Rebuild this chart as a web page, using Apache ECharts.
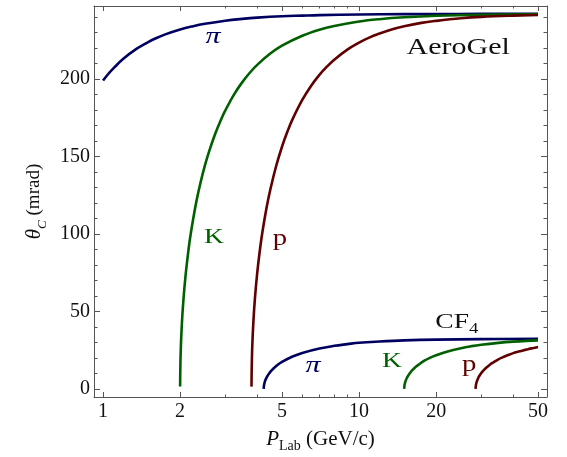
<!DOCTYPE html>
<html>
<head>
<meta charset="utf-8">
<script src="https://cdn.jsdelivr.net/npm/echarts@6/dist/echarts.min.js"></script>
<style>
  html, body { margin: 0; padding: 0; background: #fff; }
  #chart { width: 567px; height: 457px; }
</style>
</head>
<body>
<div id="chart"></div>
<script>
// Cherenkov angle θ_C (mrad) versus lab momentum (GeV/c) for π, K and p
// in an aerogel radiator and in CF4 gas.

// --- AeroGel ---
const pAeroPi  = [1.0, 1.05, 1.1, 1.2, 1.35, 1.5, 1.6, 1.75, 2, 2.25, 2.5, 3, 3.5, 4, 5, 6, 7, 10, 15, 20, 30, 50];
const thAeroPi = [198.9, 203.3, 206.9, 212.9, 219.3, 223.7, 226.0, 228.7, 231.9, 234.0, 235.5, 237.5, 238.7, 239.5, 240.4, 240.8, 241.1, 241.5, 241.75, 241.8, 241.9, 241.95];

const pAeroK  = [2.0, 2.01, 2.03, 2.06, 2.1, 2.15, 2.2, 2.3, 2.4, 2.5, 2.6, 2.75, 2.9, 3, 3.25, 3.5, 3.75, 4, 4.5, 5, 6, 7, 8, 10, 12, 15, 20, 30, 50];
const thAeroK = [1.5, 23.2, 40.7, 57.2, 72.9, 87.9, 99.9, 118.5, 132.7, 144.2, 153.6, 165.1, 174.3, 179.5, 190.0, 197.9, 204.1, 209.0, 216.3, 221.4, 227.8, 231.7, 234.1, 237.0, 238.5, 239.7, 240.7, 241.4, 241.7];

const pAeroP  = [3.80, 3.81, 3.83, 3.87, 3.92, 4, 4.1, 4.2, 4.35, 4.5, 4.75, 5, 5.25, 5.5, 6, 6.5, 7, 7.5, 8, 9, 10, 11, 12, 13.5, 15, 17.5, 20, 25, 30, 40, 50];
const thAeroP = [1.5, 15.4, 28.9, 44.7, 58.4, 74.5, 89.8, 102.0, 116.7, 128.5, 144.1, 156.2, 166.0, 174.0, 186.4, 195.6, 202.6, 208.0, 212.4, 218.9, 223.4, 226.8, 229.2, 232.0, 233.9, 236.1, 237.4, 239.1, 240.0, 240.8, 241.2];

// --- CF4 ---
const pGasPi  = [4.24, 4.25, 4.27, 4.3, 4.35, 4.4, 4.5, 4.6, 4.8, 5, 5.5, 6, 7, 8, 9, 10, 12, 15, 20, 30, 50];
const thGasPi = [0, 2, 3.7, 5.4, 7.3, 8.7, 11, 12.7, 15.4, 17.4, 20.9, 23.2, 26.1, 27.8, 28.9, 29.8, 30.6, 31.3, 31.8, 32.1, 32.3];

const pGasK  = [15.0, 15.05, 15.1, 15.2, 15.35, 15.5, 15.75, 16, 16.5, 17, 18, 19, 20, 22, 25, 27.5, 30, 35, 40, 45, 50];
const thGasK = [0, 2.5, 3.6, 5.2, 6.9, 8.2, 10, 11.4, 13.7, 15.4, 18.2, 20.2, 21.7, 24, 26.3, 27.6, 28.5, 29.7, 30.5, 31, 31.3];

const pGasP  = [28.5, 28.55, 28.6, 28.8, 29.2, 29.6, 30, 30.5, 31, 32.5, 33.5, 35, 36.5, 38, 40, 42, 44, 46, 48, 50];
const thGasP = [0, 1.5, 2.4, 4.6, 7.1, 8.8, 10.2, 11.7, 12.9, 15.8, 17.2, 19.1, 20.5, 21.7, 23.1, 24.1, 25, 25.8, 26.4, 27];

// Axis ticks
const xMajorTicks = [1, 2, 5, 10, 20, 50];
const xMinorTicks = [3, 4, 6, 7, 8, 9, 30, 40];
const yMajorTicks = [0, 50, 100, 150, 200];
const yMinorTicks = [10, 20, 30, 40, 60, 70, 80, 90, 110, 120, 130, 140, 160, 170, 180, 190, 210, 220, 230, 240];

// Curve annotations: [text key, momentum, angle]
const curveLabels = [
  ['pi', 2.69, 227.5], ['K', 2.71, 98], ['p', 4.91, 97],
  ['pi', 6.61, 15], ['K', 13.45, 17.6], ['p', 26.9, 15.6]
];
const radiatorLabels = [['AeroGel', 24.4, 220], ['CF4', 24.1, 43.3]];

const C_PI = '#000060';
const C_K = '#006000';
const C_P = '#600000';
const FRAME = '#555555';
const SERIF = 'Liberation Serif';

const zip = (xs, ys) => xs.map((x, i) => [x, ys[i]]);

const X_MIN = 0.922, X_MAX = 54.2;
const Y_MIN = -5.2, Y_MAX = 247;

function xAxisDef(position, ticks, len, withLine, withLabel) {
  const ax = {
    type: 'log', logBase: 10, position: position, min: X_MIN, max: X_MAX,
    axisLine: { show: withLine, onZero: false, lineStyle: { color: FRAME, width: 1 } },
    axisTick: { show: true, inside: true, length: len, customValues: ticks, lineStyle: { color: FRAME, width: 1 } },
    axisLabel: { show: false },
    splitLine: { show: false },
    minorTick: { show: false }
  };
  if (withLabel) {
    ax.axisLabel = {
      show: true, customValues: ticks, margin: 5,
      formatter: v => String(Math.round(v)),
      fontFamily: SERIF, fontSize: 20, color: '#111'
    };
    ax.name = '{i|P}{s|Lab} (GeV/c)';
    ax.nameLocation = 'middle';
    ax.nameGap = 31;
    ax.nameTextStyle = {
      fontFamily: SERIF, fontSize: 21, color: '#111', lineHeight: 26, verticalAlign: 'middle',
      rich: {
        i: { fontFamily: SERIF, fontStyle: 'italic', fontSize: 21, color: '#111', lineHeight: 26, verticalAlign: 'middle' },
        s: { fontFamily: SERIF, fontSize: 14, color: '#111', lineHeight: 26, verticalAlign: 'bottom' }
      }
    };
  }
  return ax;
}

function yAxisDef(position, ticks, len, withLine, withLabel) {
  const ax = {
    type: 'value', position: position, min: Y_MIN, max: Y_MAX,
    axisLine: { show: withLine, onZero: false, lineStyle: { color: FRAME, width: 1 } },
    axisTick: { show: true, inside: true, length: len, customValues: ticks, lineStyle: { color: FRAME, width: 1 } },
    axisLabel: { show: false },
    splitLine: { show: false },
    minorTick: { show: false }
  };
  if (withLabel) {
    ax.axisLabel = {
      show: true, customValues: ticks, margin: 4,
      fontFamily: SERIF, fontSize: 20, color: '#111'
    };
    ax.name = '{t|θ}{s|C} (mrad)';
    ax.nameLocation = 'middle';
    ax.nameGap = 50;
    ax.nameTextStyle = {
      fontFamily: SERIF, fontSize: 19, color: '#111', lineHeight: 30, verticalAlign: 'middle',
      rich: {
        t: { fontFamily: SERIF, fontStyle: 'italic', fontSize: 21, color: '#111', lineHeight: 30, verticalAlign: 'middle' },
        s: { fontFamily: SERIF, fontStyle: 'italic', fontSize: 13, color: '#111', lineHeight: 30, verticalAlign: 'bottom' }
      }
    };
  }
  return ax;
}

function curve(name, xs, ys, color) {
  return {
    name: name, type: 'line', xAxisIndex: 0, yAxisIndex: 0,
    data: zip(xs, ys), showSymbol: false, symbol: 'none',
    smooth: 0.4, clip: true,
    lineStyle: { color: color, width: 2.6 },
    emphasis: { disabled: true }
  };
}

const chart = echarts.init(document.getElementById('chart'), null, { renderer: 'canvas' });

chart.setOption({
  animation: false,
  backgroundColor: '#ffffff',
  grid: { left: 94, right: 20, top: 6, bottom: 60, outerBoundsMode: 'none' },
  xAxis: [
    xAxisDef('bottom', xMajorTicks, 5, true, true),
    xAxisDef('bottom', xMinorTicks, 2.5, false, false),
    xAxisDef('top', xMajorTicks, 5, true, false),
    xAxisDef('top', xMinorTicks, 2.5, false, false)
  ],
  yAxis: [
    yAxisDef('left', yMajorTicks, 6, true, true),
    yAxisDef('left', yMinorTicks, 3.5, false, false),
    yAxisDef('right', yMajorTicks, 6, true, false),
    yAxisDef('right', yMinorTicks, 3.5, false, false)
  ],
  series: [
    curve('π AeroGel', pAeroPi, thAeroPi, C_PI),
    curve('K AeroGel', pAeroK, thAeroK, C_K),
    curve('p AeroGel', pAeroP, thAeroP, C_P),
    curve('π CF4', pGasPi, thGasPi, C_PI),
    curve('K CF4', pGasK, thGasK, C_K),
    curve('p CF4', pGasP, thGasP, C_P)
  ]
});

// Text annotations anchored to data coordinates, drawn slightly widened.
const labelStyle = {
  pi: { text: 'π', fill: C_PI, fontStyle: 'italic', fontSize: 24 },
  K:  { text: 'K', fill: C_K, fontStyle: 'normal', fontSize: 22 },
  p:  { text: 'p', fill: C_P, fontStyle: 'normal', fontSize: 23 }
};
const graphics = [];
curveLabels.forEach(([key, px, py]) => {
  const pos = chart.convertToPixel({ seriesIndex: 0 }, [px, py]);
  const st = labelStyle[key];
  graphics.push({
    type: 'text', x: pos[0], y: pos[1], scaleX: 1.25, silent: true,
    style: {
      text: st.text, fill: st.fill, fontFamily: SERIF, fontStyle: st.fontStyle,
      fontSize: st.fontSize, align: 'center', verticalAlign: 'middle'
    }
  });
});
radiatorLabels.forEach(([key, px, py]) => {
  const pos = chart.convertToPixel({ seriesIndex: 0 }, [px, py]);
  const isGas = key === 'CF4';
  graphics.push({
    type: 'text', x: pos[0], y: pos[1], scaleX: 1.25, silent: true,
    style: isGas ? {
      text: '{a|CF}{b|4}', align: 'center', verticalAlign: 'middle',
      rich: {
        a: { fontFamily: SERIF, fontSize: 22, fill: '#111', lineHeight: 30, verticalAlign: 'middle' },
        b: { fontFamily: SERIF, fontSize: 15, fill: '#111', lineHeight: 30, verticalAlign: 'bottom' }
      }
    } : {
      text: key, fill: '#111', fontFamily: SERIF, fontSize: 24,
      align: 'center', verticalAlign: 'middle'
    }
  });
});
chart.setOption({ graphic: graphics });
</script>
</body>
</html>
